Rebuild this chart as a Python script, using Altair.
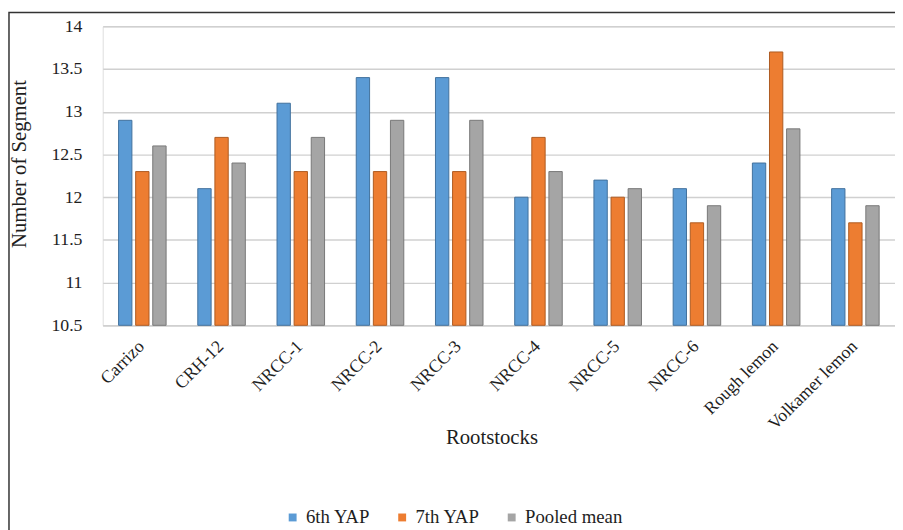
import altair as alt
import pandas as pd

rootstocks = ["Carrizo", "CRH-12", "NRCC-1", "NRCC-2", "NRCC-3", "NRCC-4",
              "NRCC-5", "NRCC-6", "Rough lemon", "Volkamer lemon"]
yap6 = [12.9, 12.1, 13.1, 13.4, 13.4, 12.0, 12.2, 12.1, 12.4, 12.1]
yap7 = [12.3, 12.7, 12.3, 12.3, 12.3, 12.7, 12.0, 11.7, 13.7, 11.7]
pooled = [12.6, 12.4, 12.7, 12.9, 12.9, 12.3, 12.1, 11.9, 12.8, 11.9]
series = ["6th YAP", "7th YAP", "Pooled mean"]
fills = ["#5B9BD5", "#ED7D31", "#A5A5A5"]
strokes = ["#41719C", "#AE5A21", "#787878"]
y_ticks = [10.5, 11, 11.5, 12, 12.5, 13, 13.5, 14]
y_min, y_max = 10.5, 14

rows = []
for i, r in enumerate(rootstocks):
    for s, vals in zip(series, [yap6, yap7, pooled]):
        rows.append({"Rootstock": r, "Series": s, "Value": vals[i]})
df = pd.DataFrame(rows)

FONT = "Liberation Serif"
TXT = "#1e1e1e"
W, H = 803, 303

bars = alt.Chart(df).mark_bar(strokeWidth=1).encode(
    x=alt.X("Rootstock:N", sort=rootstocks,
            scale=alt.Scale(paddingInner=0.4, paddingOuter=0.2),
            axis=alt.Axis(title="Rootstocks", labelAngle=-45, labelAlign="right",
                          labelBaseline="top", labelPadding=12, labelOffset=-7,
                          ticks=False, domainColor="#D0D0D0", domainWidth=1.5,
                          titleY=114, titleBaseline="middle", titleX=394)),
    xOffset=alt.XOffset("Series:N", sort=series, scale=alt.Scale(paddingInner=0.22)),
    y=alt.Y("Value:Q", scale=alt.Scale(domain=[y_min, y_max], zero=False),
            axis=alt.Axis(title="Number of Segment", values=y_ticks, ticks=False,
                          domain=False, gridColor="#D0D0D0", gridWidth=1.5,
                          labelPadding=21, format="~g", titleAngle=270,
                          titleX=-84, titleY=139, titleBaseline="middle")),
    y2=alt.datum(y_min),
    color=alt.Color("Series:N", sort=series,
                    scale=alt.Scale(domain=series, range=fills),
                    legend=alt.Legend(title=None, orient="none", direction="horizontal",
                                      legendX=183, legendY=488, symbolType="square",
                                      symbolSize=64, symbolStrokeWidth=0,
                                      columnPadding=23, labelOffset=4)),
    stroke=alt.Stroke("Series:N", sort=series,
                      scale=alt.Scale(domain=series, range=strokes), legend=None),
)

frame = alt.Chart(pd.DataFrame({"a": [0]})).mark_rect(
    fill=None, stroke="#333333", strokeWidth=1.5
).encode(
    x=alt.value(-95), x2=alt.value(W + 100), y=alt.value(-14), y2=alt.value(H + 300)
)

chart = alt.layer(bars, frame).properties(
    width=W, height=H,
    autosize=alt.AutoSizeParams(type="none"),
    padding={"left": 96, "top": 15, "right": 0, "bottom": 215},
).configure_view(stroke=None).configure(background="white").configure_axis(
    labelFont=FONT, labelFontSize=18, labelColor=TXT,
    titleFont=FONT, titleFontSize=21, titleFontWeight="normal", titleColor=TXT,
).configure_legend(
    labelFont=FONT, labelFontSize=19, labelColor=TXT,
)

chart.save("out.html", embed_options={"renderer": "svg", "actions": False})
